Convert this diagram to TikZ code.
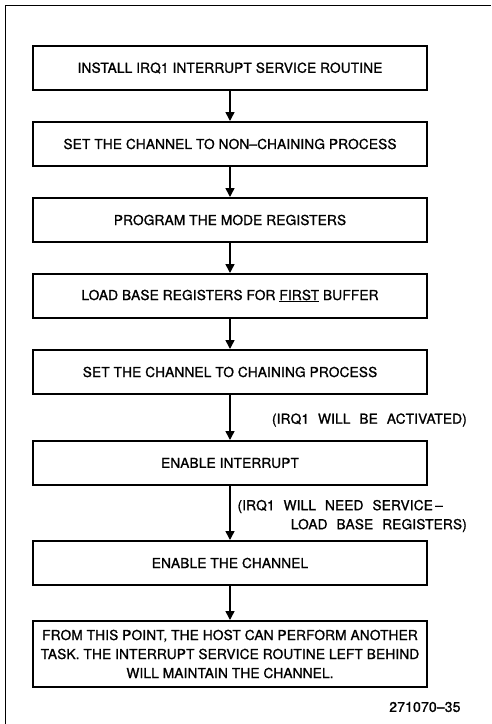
\documentclass[tikz,border=0pt]{standalone}
\usepackage{fontspec}
\setmainfont[FakeBold=1.2,BoldFont={TeX Gyre Heros},LetterSpace=1]{TeX Gyre Heros}
\usetikzlibrary{positioning,arrows.meta}
\newcommand\notefont{\fontsize{13.7}{19}\selectfont\bfseries\spaceskip=9pt plus 2pt\relax}

\begin{document}
\begin{tikzpicture}[x=1pt, y=-1pt, node distance=30pt,
  every node/.style={font=\fontsize{13.7}{19}\selectfont\bfseries},
  stepbox/.style={rectangle, draw, line width=2.4pt, minimum width=394pt, minimum height=43.6pt, inner sep=3pt},
  flow/.style={-{Triangle[width=9pt,length=9pt]}, line width=1.6pt},
  note/.style={anchor=east, align=right, inner sep=0pt, font=\notefont}]
  \useasboundingbox (0,0) rectangle (491,724);
  % frame
  \draw[line width=1pt] (5,724) -- (5,5) -- (491,5);
  \node[stepbox] (isr) at (230,68) {INSTALL IRQ1 INTERRUPT SERVICE ROUTINE};
  \node[stepbox, below=of isr] (nochain) {SET THE CHANNEL TO NON--CHAINING PROCESS};
  \node[stepbox, below=of nochain] (mode) {PROGRAM THE MODE REGISTERS};
  \node[stepbox, below=of mode] (base) {LOAD BASE REGISTERS FOR \underline{FIRST} BUFFER};
  \node[stepbox, below=of base] (chain) {SET THE CHANNEL TO CHAINING PROCESS};
  \node[stepbox, below=45pt of chain] (intr) {ENABLE INTERRUPT};
  \node[stepbox, below=54pt of intr] (chan) {ENABLE THE CHANNEL};
  \node[stepbox, below=34pt of chan, minimum height=65.6pt, align=center] (host)
    {FROM THIS POINT, THE HOST CAN PERFORM ANOTHER\\
     TASK. THE INTERRUPT SERVICE ROUTINE LEFT BEHIND\\
     WILL MAINTAIN THE CHANNEL.};
  \draw[flow] (isr) -- (nochain);
  \draw[flow] (nochain) -- (mode);
  \draw[flow] (mode) -- (base);
  \draw[flow] (base) -- (chain);
  \draw[flow] (chain) -- (intr);
  \draw[flow] (intr) -- (chan);
  \draw[flow] (chan) -- (host);
  % side notes
  \node[note] (act) at (467,420) {(IRQ1 WILL BE ACTIVATED)};
  \node[note] (svc) at (467,516) {(IRQ1 WILL NEED SERVICE\,--\hspace*{24pt}\\LOAD BASE REGISTERS)};
  \node[anchor=east, font=\fontsize{14}{16}\selectfont] (fig) at (464,707) {271070--35};
\end{tikzpicture}
\end{document}
